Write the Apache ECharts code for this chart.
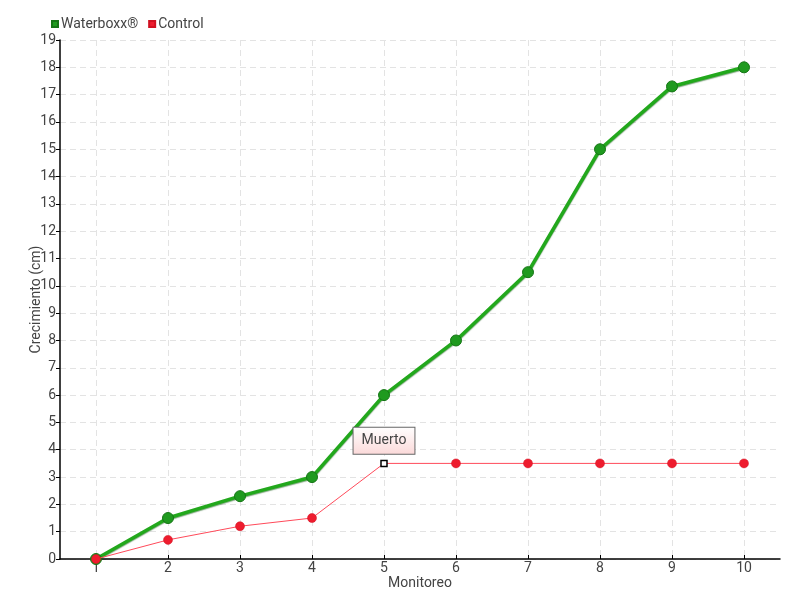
<!DOCTYPE html>
<html>
<head>
<meta charset="utf-8">
<script src="https://cdn.jsdelivr.net/npm/echarts@6/dist/echarts.min.js"></script>
<style>html,body{margin:0;padding:0;background:#fff}#c{width:800px;height:600px}</style>
</head>
<body>
<div id="c"></div>
<script>
const categories = ['1','2','3','4','5','6','7','8','9','10'];
const waterboxx = [0, 1.5, 2.3, 3.0, 6.0, 8.0, 10.5, 15.0, 17.3, 18.0];
const control = [0, 0.7, 1.2, 1.5, 3.5, 3.5, 3.5, 3.5, 3.5, 3.5];
const seriesNames = ['Waterboxx®', 'Control'];
const deadIndex = 4;
const deadLabel = 'Muerto';

const FONT = "Roboto, sans-serif";
const chart = echarts.init(document.getElementById('c'), null, {renderer: 'canvas'});

const controlData = control.map((v, i) => {
  if (i === deadIndex) {
    return {
      value: v,
      symbol: 'rect',
      symbolSize: 6,
      itemStyle: {color: '#ffffff', borderColor: '#000000', borderWidth: 1.5},
      label: {
        show: true, position: 'top', distance: 6,
        formatter: deadLabel,
        fontFamily: FONT, fontSize: 14, color: '#444',
        backgroundColor: {
          type: 'linear', x: 0, y: 0, x2: 0, y2: 1,
          colorStops: [{offset: 0, color: '#ffffff'}, {offset: 1, color: '#fbd9d9'}]
        },
        borderColor: '#666', borderWidth: 1,
        padding: [6, 8, 6, 8]
      }
    };
  }
  return v;
});

chart.setOption({
  animation: false,
  textStyle: {fontFamily: FONT},
  legend: {
    left: 46, top: 12,
    itemWidth: 6, itemHeight: 6, itemGap: 10,
    icon: 'rect',
    textStyle: {fontFamily: FONT, fontSize: 14, color: '#444', padding: [0, 0, 0, -2]},
    data: seriesNames
  },
  grid: {left: 60, right: 20, top: 40, bottom: 41, containLabel: false},
  xAxis: {
    type: 'category',
    data: categories,
    boundaryGap: true,
    name: 'Monitoreo',
    nameLocation: 'middle',
    nameGap: 17,
    nameMoveOverlap: false,
    nameTextStyle: {fontFamily: FONT, fontSize: 14, color: '#444'},
    axisLine: {lineStyle: {color: '#000', width: 1.5}},
    axisTick: {show: true, alignWithLabel: true, length: -4, lineStyle: {color: '#000'}},
    axisLabel: {fontFamily: FONT, fontSize: 14, color: '#444', margin: 2},
    splitLine: {show: true, alignWithLabel: true, lineStyle: {color: '#e3e3e3', type: [6, 4], width: 1}}
  },
  yAxis: {
    type: 'value',
    min: 0, max: 19, interval: 1,
    name: 'Crecimiento (cm)',
    nameLocation: 'middle',
    nameGap: 17,
    nameMoveOverlap: false,
    nameTextStyle: {fontFamily: FONT, fontSize: 14, color: '#444'},
    axisLine: {show: true, lineStyle: {color: '#000', width: 1.5}},
    axisTick: {show: true, length: 4, lineStyle: {color: '#000'}},
    axisLabel: {fontFamily: FONT, fontSize: 14, color: '#444', margin: 4},
    splitLine: {show: true, lineStyle: {color: '#e3e3e3', type: [6, 4], width: 1}}
  },
  series: [
    {
      name: seriesNames[0],
      type: 'line',
      data: waterboxx,
      color: '#1fa01f',
      symbol: 'circle',
      symbolSize: 11,
      lineStyle: {width: 3.5, color: '#22a81c', shadowColor: 'rgba(0,80,0,0.5)', shadowBlur: 1, shadowOffsetY: 1},
      itemStyle: {color: '#1f9a1f', borderColor: '#157515', borderWidth: 1},
      z: 2
    },
    {
      name: seriesNames[1],
      type: 'line',
      data: controlData,
      color: '#ee1c2e',
      symbol: 'circle',
      symbolSize: 9,
      lineStyle: {width: 1, color: '#ff4a5a'},
      itemStyle: {color: '#ee1c2e', borderColor: '#d01020', borderWidth: 0.5},
      z: 3
    }
  ]
});
</script>
</body>
</html>
